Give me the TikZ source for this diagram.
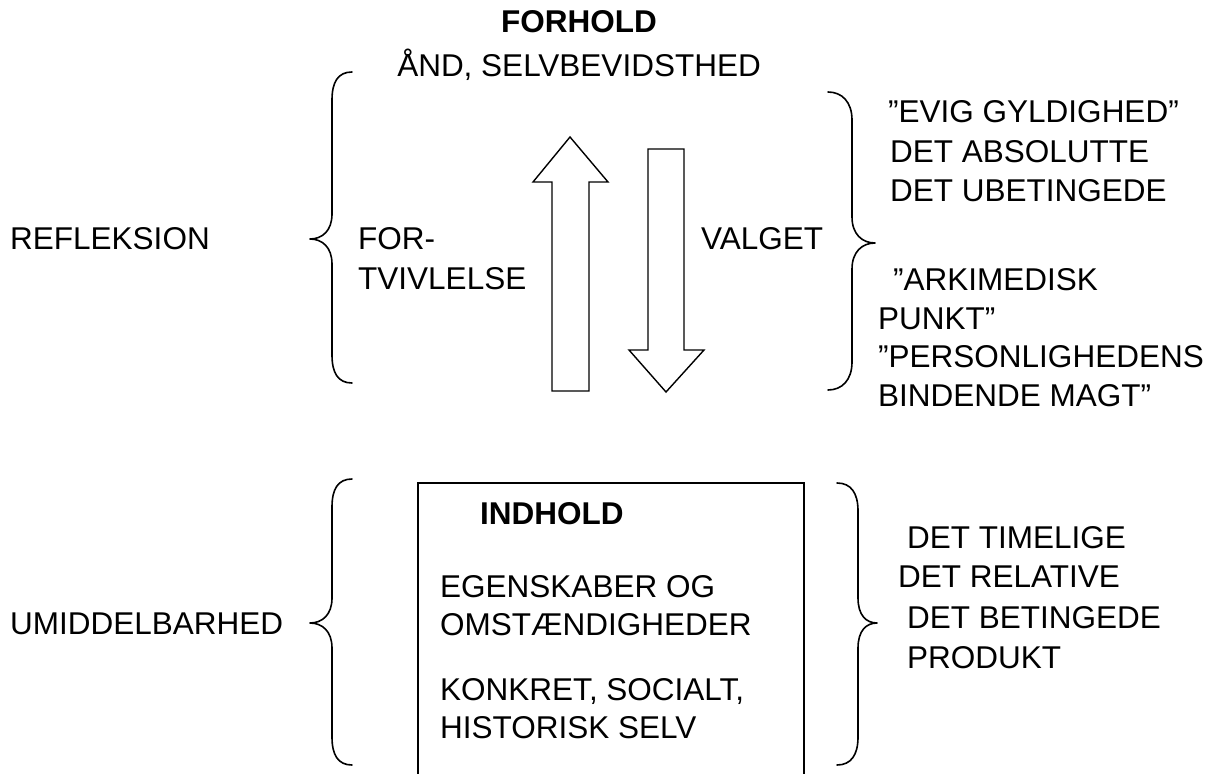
\documentclass[tikz,border=0pt]{standalone}
\usepackage{fontspec}
\setmainfont{Liberation Sans}
\begin{document}
\begin{tikzpicture}[x=1pt,y=-1pt,
  txt/.style={anchor=base west, inner sep=0pt, font=\fontsize{31.5}{38}\selectfont},
  boldtxt/.style={txt, font=\fontsize{31.5}{38}\selectfont\bfseries},
  brace/.style={draw=black, line width=1.6pt, line join=round, line cap=round},
  bigarrow/.style={draw=black, line width=1.4pt, fill=white, line join=miter},
  boxline/.style={draw=black, line width=1.8pt}]
\fill[white] (0,0) rectangle (1222,773);
\useasboundingbox (0,0) rectangle (1222,773);

% top titles
\node[boldtxt, anchor=base] (forhold) at (579,33) {FORHOLD};
\node[txt, anchor=base] (aand) at (579,77) {ÅND, SELVBEVIDSTHED};

% upper row
\node[txt] (refl) at (10,249) {REFLEKSION};
\node[txt] (for) at (358,249) {FOR-};
\node[txt] (tviv) at (358,289) {TVIVLELSE};
\node[txt] (valget) at (701,249) {VALGET};

\node[txt] (r1) at (888,123) {”EVIG GYLDIGHED”};
\node[txt] (r2) at (890,162) {DET ABSOLUTTE};
\node[txt] (r3) at (890,201) {DET UBETINGEDE};
\node[txt] (r4) at (893,290) {”ARKIMEDISK};
\node[txt] (r5) at (878,329) {PUNKT”};
\node[txt] (r6) at (878,367) {”PERSONLIGHEDENS};
\node[txt] (r7) at (878,406) {BINDENDE MAGT”};

% upper braces
\draw[brace] (352,72) .. controls (338,72) and (332,82) .. (332,100)
  -- (332,214) .. controls (332,231) and (322,239) .. (310,239)
  .. controls (322,239) and (332,247) .. (332,264)
  -- (332,355) .. controls (332,373) and (338,383) .. (352,383);
\draw[brace] (828,92) .. controls (842,92) and (852,102) .. (852,120)
  -- (852,217) .. controls (852,234) and (862,243) .. (875,243)
  .. controls (862,243) and (852,252) .. (852,269)
  -- (852,362) .. controls (852,380) and (842,390) .. (828,390);

% arrows
\draw[bigarrow] (552,391) -- (552,182) -- (533,182) -- (570,137) -- (608,182)
  -- (589,182) -- (589,391) -- cycle;
\draw[bigarrow] (648,149) -- (684,149) -- (684,350) -- (704,350) -- (666,392)
  -- (629,350) -- (648,350) -- cycle;

% lower row
\node[txt] (umid) at (10,634) {UMIDDELBARHED};
\draw[boxline] (418,775) -- (418,483) -- (804,483) -- (804,775);
\node[boldtxt] (indhold) at (480,524) {INDHOLD};
\node[txt] (b1) at (440,597) {EGENSKABER OG};
\node[txt] (b2) at (440,635) {OMSTÆNDIGHEDER};
\node[txt] (b3) at (440,700) {KONKRET, SOCIALT,};
\node[txt] (b4) at (440,738) {HISTORISK SELV};

\node[txt] (l1) at (907,548) {DET TIMELIGE};
\node[txt] (l2) at (898,587) {DET RELATIVE};
\node[txt] (l3) at (907,628) {DET BETINGEDE};
\node[txt] (l4) at (907,668) {PRODUKT};

% lower braces
\draw[brace] (352,479) .. controls (338,479) and (332,489) .. (332,507)
  -- (332,598) .. controls (332,615) and (322,623) .. (310,623)
  .. controls (322,623) and (332,631) .. (332,648)
  -- (332,737) .. controls (332,755) and (338,765) .. (352,765);
\draw[brace] (837,483) .. controls (851,483) and (858,493) .. (858,511)
  -- (858,598) .. controls (858,615) and (866,623) .. (877,623)
  .. controls (866,623) and (858,631) .. (858,648)
  -- (858,737) .. controls (858,755) and (851,765) .. (837,765);
\end{tikzpicture}
\end{document}
